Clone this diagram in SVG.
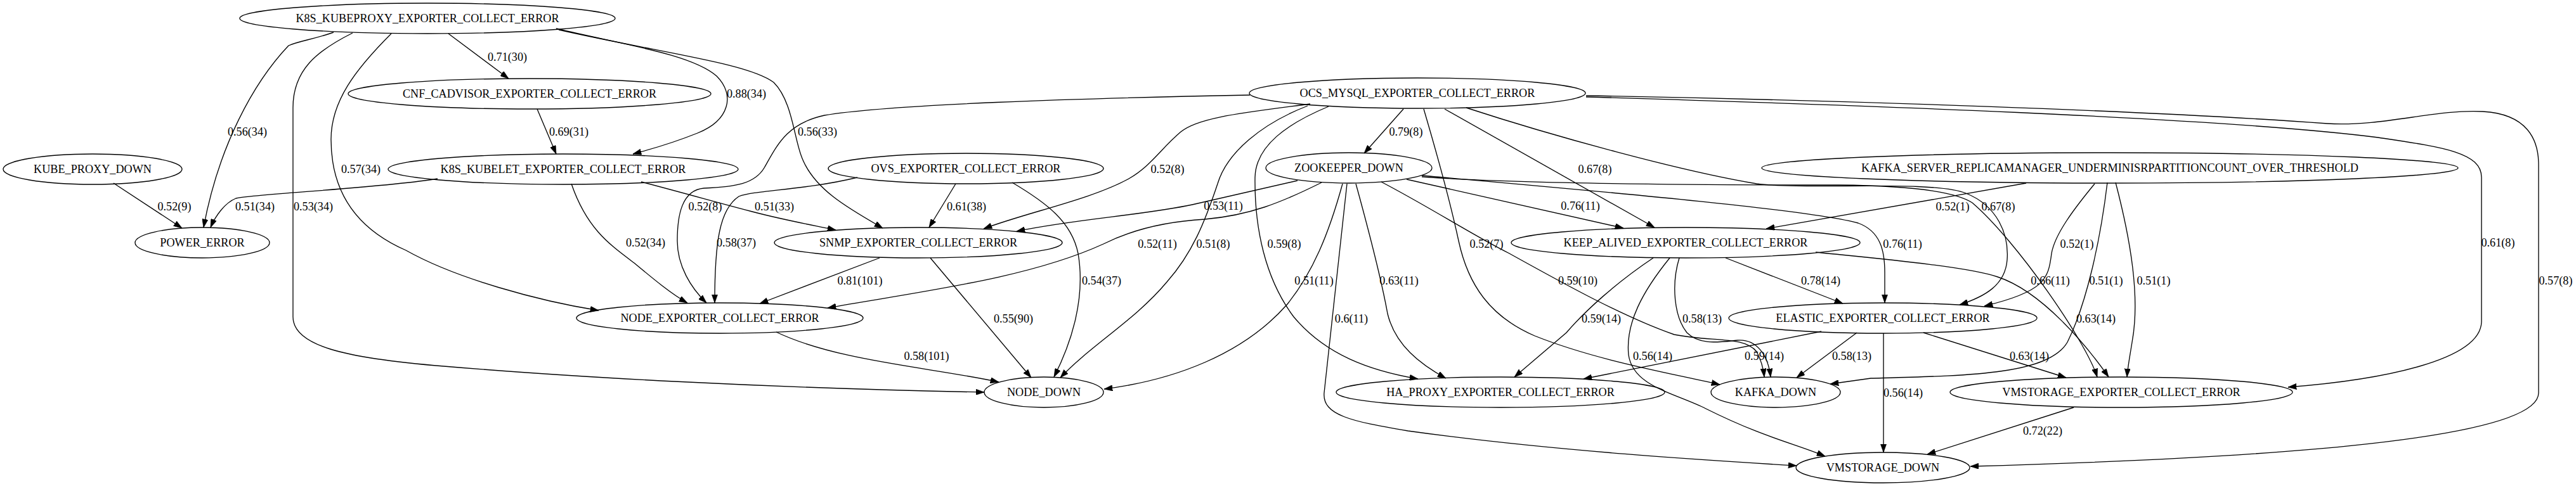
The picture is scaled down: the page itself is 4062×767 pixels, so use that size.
<svg xmlns="http://www.w3.org/2000/svg" width="4062" height="767" viewBox="0 0 4062 767">
<style>
.n ellipse{fill:none;stroke:#000;stroke-width:1.33}
text{font-family:"Liberation Serif","Times New Roman",serif;font-size:18.2px;text-anchor:middle;fill:#000}
.e path{fill:none;stroke:#000;stroke-width:1.33;marker-end:url(#a)}
</style>
<defs>
<marker id="a" viewBox="0 0 10 7" refX="10" refY="3.5" markerWidth="13.3" markerHeight="9.3" markerUnits="userSpaceOnUse" orient="auto"><path d="M0,0 L10,3.5 L0,7 z" fill="#000" stroke="#000" stroke-width="0.5"/></marker>
</defs>
<rect width="4062" height="767" fill="#fff"/>
<g id="connectors">
<g class="e"><path d="M526,51 C495,62 470,65 455,72 C400,130 345,230 321,359"/><text x="390" y="214">0.56(34)</text></g>
<g class="e"><path d="M556,52 C500,80 462,110 462,170 L462,500 C462,545 540,565 700,578 C900,595 1200,612 1552,619"/><text x="494" y="332">0.53(34)</text></g>
<g class="e"><path d="M617,53 C560,110 522,160 522,220 C522,300 560,360 640,395 C720,440 850,475 944,490"/><text x="569" y="273">0.57(34)</text></g>
<g class="e"><path d="M707,53 L802,124"/><text x="800" y="96">0.71(30)</text></g>
<g class="e"><path d="M877,45 C980,70 1090,85 1130,120 C1160,150 1150,190 1100,210 C1060,226 1025,236 998,243"/><text x="1177" y="154">0.88(34)</text></g>
<g class="e"><path d="M881,47 C1050,85 1180,100 1220,130 C1250,160 1252,220 1265,250 C1285,300 1340,330 1392,360"/><text x="1289" y="214">0.56(33)</text></g>
<g class="e"><path d="M847,172 L877,243"/><text x="897" y="214">0.69(31)</text></g>
<g class="e"><path d="M179,289 L287,360"/><text x="275" y="332">0.52(9)</text></g>
<g class="e"><path d="M690,282 C600,297 400,306 372,313 C355,320 340,340 332,359"/><text x="402" y="332">0.51(34)</text></g>
<g class="e"><path d="M901,290 C925,360 960,385 1000,415 C1030,440 1060,465 1084,478"/><text x="1018" y="389">0.52(34)</text></g>
<g class="e"><path d="M1011,287 C1080,305 1150,325 1190,335 C1240,348 1280,355 1318,363"/><text x="1221" y="332">0.51(33)</text></g>
<g class="e"><path d="M1507,290 L1465,359"/><text x="1524" y="332">0.61(38)</text></g>
<g class="e"><path d="M1352,280 C1270,300 1190,300 1165,310 C1135,330 1127,380 1127,478"/><text x="1161" y="389">0.58(37)</text></g>
<g class="e"><path d="M1596,288 C1650,320 1690,350 1700,400 C1712,470 1690,540 1662,595"/><text x="1737" y="449">0.54(37)</text></g>
<g class="e"><path d="M1387,407 L1198,479"/><text x="1356" y="449">0.81(101)</text></g>
<g class="e"><path d="M1467,407 L1626,596"/><text x="1598" y="509">0.55(90)</text></g>
<g class="e"><path d="M1224,524 C1320,570 1470,580 1575,603"/><text x="1461" y="568">0.58(101)</text></g>
<g class="e"><path d="M1971,150 C1700,155 1400,165 1300,182 C1240,195 1225,230 1205,265 C1190,290 1160,295 1110,297 C1075,300 1068,340 1068,380 C1068,420 1090,455 1114,478"/><text x="1112" y="332">0.52(8)</text></g>
<g class="e"><path d="M2066,164 C1960,178 1890,185 1862,208 C1830,235 1815,262 1780,282 C1720,315 1620,335 1551,361"/><text x="1841" y="273">0.52(8)</text></g>
<g class="e"><path d="M2062,167 C1990,195 1935,240 1920,290 C1900,350 1880,400 1840,445 C1790,505 1720,545 1672,596"/><text x="1913" y="391">0.51(8)</text></g>
<g class="e"><path d="M2095,168 C2030,195 1980,230 1979,280 C1978,360 1995,440 2040,500 C2090,560 2160,585 2236,598"/><text x="2025" y="391">0.59(8)</text></g>
<g class="e"><path d="M2213,172 L2151,242"/><text x="2217" y="214">0.79(8)</text></g>
<g class="e"><path d="M2245,172 C2265,240 2285,310 2300,380 C2315,450 2350,500 2420,530 C2520,570 2640,590 2712,607"/><text x="2344" y="391">0.52(7)</text></g>
<g class="e"><path d="M2278,172 L2609,359"/><text x="2515" y="273">0.67(8)</text></g>
<g class="e"><path d="M2312,170 C2450,215 2650,270 2770,290 C2850,300 3050,284 3100,305 C3150,325 3168,370 3165,410 C3162,450 3130,468 3090,481"/><text x="3151" y="332">0.67(8)</text></g>
<g class="e"><path d="M2501,153 C2900,165 3500,185 3750,217 C3850,232 3913,240 3913,280 L3913,507 C3913,570 3750,600 3608,611"/><text x="3939" y="389">0.61(8)</text></g>
<g class="e"><path d="M2501,151 C2900,158 3400,175 3670,195 C3760,200 3840,172 3915,176 C3985,180 4003,220 4003,260 L4003,620 C4003,700 3500,725 3107,736"/><text x="4030" y="449">0.57(8)</text></g>
<g class="e"><path d="M2046,285 L1880,323 C1800,340 1700,345 1603,365"/><text x="1929" y="331">0.53(11)</text></g>
<g class="e"><path d="M2084,288 C2020,320 1970,340 1900,346 C1830,350 1780,365 1740,385 C1620,440 1450,460 1305,486"/><text x="1825" y="391">0.52(11)</text></g>
<g class="e"><path d="M2117,290 C2095,370 2070,430 2030,480 C1960,560 1850,600 1741,614"/><text x="2072" y="449">0.51(11)</text></g>
<g class="e"><path d="M2124,290 L2088,620 C2085,655 2130,665 2220,680 C2450,712 2700,727 2833,735"/><text x="2131" y="509">0.6(11)</text></g>
<g class="e"><path d="M2138,290 C2160,370 2178,440 2188,495 C2200,545 2240,575 2280,597"/><text x="2206" y="449">0.63(11)</text></g>
<g class="e"><path d="M2178,287 C2260,330 2320,370 2380,400 C2470,450 2560,500 2640,528 C2700,540 2750,530 2770,555 C2778,570 2781,585 2782,595"/><text x="2488" y="449">0.59(10)</text></g>
<g class="e"><path d="M2218,283 L2560,360"/><text x="2492" y="331">0.76(11)</text></g>
<g class="e"><path d="M2242,277 C2500,300 2850,330 2930,352 C2965,365 2972,395 2972,430 L2972,478"/><text x="3000" y="391">0.76(11)</text></g>
<g class="e"><path d="M2242,279 C2400,291 2700,292 2900,292 C3000,293 3080,300 3110,320 C3180,380 3290,540 3307,595"/><text x="3233" y="449">0.66(11)</text></g>
<g class="e"><path d="M2607,407 C2550,445 2500,490 2470,525 L2388,595"/><text x="2525" y="509">0.59(14)</text></g>
<g class="e"><path d="M2633,407 C2590,460 2563,510 2568,560 C2575,610 2640,620 2690,645 C2780,690 2830,700 2878,720"/><text x="2606" y="568">0.56(14)</text></g>
<g class="e"><path d="M2648,407 C2635,450 2640,500 2660,525 C2680,545 2710,540 2740,537 C2770,535 2788,560 2792,595"/><text x="2684" y="509">0.58(13)</text></g>
<g class="e"><path d="M2721,407 L2906,479"/><text x="2871" y="449">0.78(14)</text></g>
<g class="e"><path d="M2863,398 C2950,407 3100,420 3150,437 C3220,460 3290,545 3325,595"/><text x="3305" y="509">0.63(14)</text></g>
<g class="e"><path d="M3195,289 L2785,361"/><text x="3079" y="332">0.52(1)</text></g>
<g class="e"><path d="M3303,290 C3270,330 3240,370 3235,400 C3230,440 3225,460 3129,483"/><text x="3275" y="391">0.52(1)</text></g>
<g class="e"><path d="M3323,288 C3312,380 3290,480 3260,540 C3230,592 3100,593 2950,597 L2886,606"/><text x="3321" y="449">0.51(1)</text></g>
<g class="e"><path d="M3336,288 C3360,380 3375,470 3362,540 C3358,565 3355,580 3354,595"/><text x="3396" y="449">0.51(1)</text></g>
<g class="e"><path d="M2872,523 L2497,598"/><text x="2782" y="568">0.59(14)</text></g>
<g class="e"><path d="M2928,525 L2833,596"/><text x="2920" y="568">0.58(13)</text></g>
<g class="e"><path d="M2970,526 L2970,714"/><text x="3001" y="626">0.56(14)</text></g>
<g class="e"><path d="M3033,525 L3258,596"/><text x="3200" y="568">0.63(14)</text></g>
<g class="e"><path d="M3270,643 L3039,717"/><text x="3221" y="686">0.72(22)</text></g>
</g>
<g id="n1" class="n"><ellipse cx="674" cy="29" rx="296" ry="24"/><text x="674" y="35">K8S_KUBEPROXY_EXPORTER_COLLECT_ERROR</text></g>
<g id="n2" class="n"><ellipse cx="835" cy="148" rx="286" ry="24"/><text x="835" y="154">CNF_CADVISOR_EXPORTER_COLLECT_ERROR</text></g>
<g id="n3" class="n"><ellipse cx="888" cy="267" rx="276" ry="24"/><text x="888" y="273">K8S_KUBELET_EXPORTER_COLLECT_ERROR</text></g>
<g id="n4" class="n"><ellipse cx="146" cy="267" rx="141" ry="24"/><text x="146" y="273">KUBE_PROXY_DOWN</text></g>
<g id="n5" class="n"><ellipse cx="319" cy="383" rx="106" ry="24"/><text x="319" y="389">POWER_ERROR</text></g>
<g id="n6" class="n"><ellipse cx="1135" cy="502" rx="226" ry="24"/><text x="1135" y="508">NODE_EXPORTER_COLLECT_ERROR</text></g>
<g id="n7" class="n"><ellipse cx="1646" cy="619" rx="94" ry="24"/><text x="1646" y="625">NODE_DOWN</text></g>
<g id="n8" class="n"><ellipse cx="1448" cy="383" rx="227" ry="24"/><text x="1448" y="389">SNMP_EXPORTER_COLLECT_ERROR</text></g>
<g id="n9" class="n"><ellipse cx="1523" cy="266" rx="217" ry="24"/><text x="1523" y="272">OVS_EXPORTER_COLLECT_ERROR</text></g>
<g id="n10" class="n"><ellipse cx="2235" cy="147" rx="265" ry="24"/><text x="2235" y="153">OCS_MYSQL_EXPORTER_COLLECT_ERROR</text></g>
<g id="n11" class="n"><ellipse cx="2127" cy="265" rx="131" ry="24"/><text x="2127" y="271">ZOOKEEPER_DOWN</text></g>
<g id="n12" class="n"><ellipse cx="2658" cy="383" rx="275" ry="24"/><text x="2658" y="389">KEEP_ALIVED_EXPORTER_COLLECT_ERROR</text></g>
<g id="n13" class="n"><ellipse cx="3327" cy="265" rx="549" ry="24"/><text x="3327" y="271">KAFKA_SERVER_REPLICAMANAGER_UNDERMINISRPARTITIONCOUNT_OVER_THRESHOLD</text></g>
<g id="n14" class="n"><ellipse cx="2969" cy="502" rx="243" ry="24"/><text x="2969" y="508">ELASTIC_EXPORTER_COLLECT_ERROR</text></g>
<g id="n15" class="n"><ellipse cx="2366" cy="619" rx="259" ry="24"/><text x="2366" y="625">HA_PROXY_EXPORTER_COLLECT_ERROR</text></g>
<g id="n16" class="n"><ellipse cx="2800" cy="619" rx="102" ry="24"/><text x="2800" y="625">KAFKA_DOWN</text></g>
<g id="n17" class="n"><ellipse cx="3345" cy="619" rx="270" ry="24"/><text x="3345" y="625">VMSTORAGE_EXPORTER_COLLECT_ERROR</text></g>
<g id="n18" class="n"><ellipse cx="2969" cy="738" rx="137" ry="24"/><text x="2969" y="744">VMSTORAGE_DOWN</text></g>
</svg>
